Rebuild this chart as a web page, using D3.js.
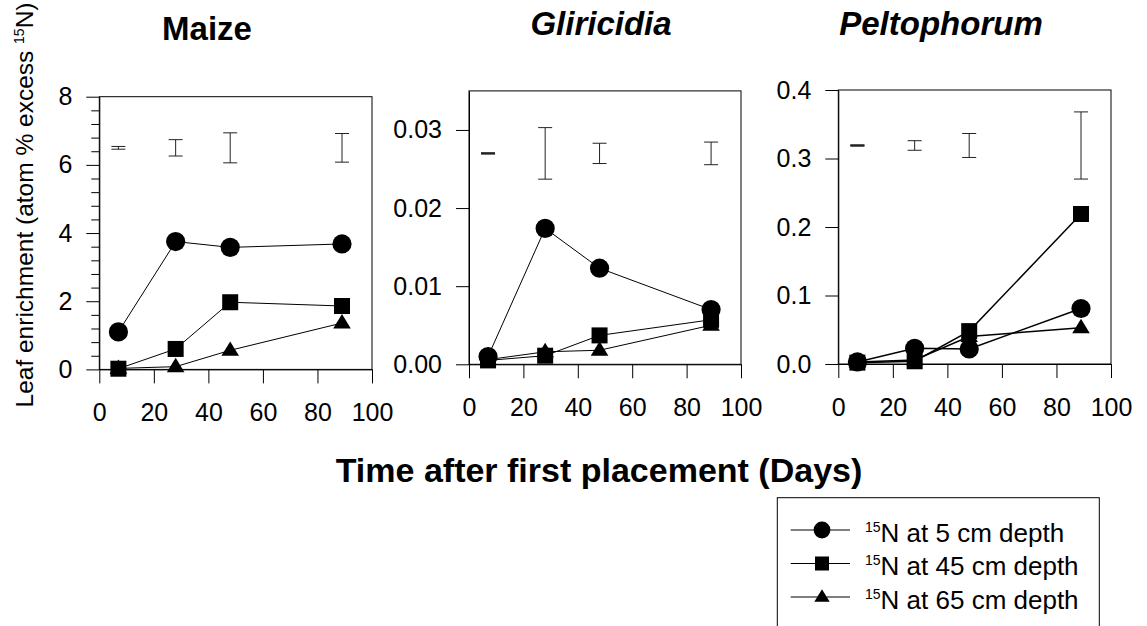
<!DOCTYPE html>
<html>
<head>
    <title>Leaf enrichment</title>
    <script src="https://cdnjs.cloudflare.com/ajax/libs/d3/7.8.5/d3.min.js"></script>
    <style>
    body {
        margin:0;
        background:white;
    }
    svg text {
        font-family:'Liberation Sans', Arial, sans-serif;
        fill:black;
    }
    </style>
</head>
<body>
<div id='chart'></div>
<script>
// days after first placement
var days = [7, 28, 48, 89];

// Maize (atom % excess)
var maize5  = [1.10, 3.75, 3.58, 3.68];
var maize45 = [0.02, 0.60, 1.97, 1.86];
var maize65 = [0.03, 0.08, 0.56, 1.36];
var maizeBarMid = 6.5;
var maizeBarHalf = [0.04, 0.24, 0.44, 0.42];

// Gliricidia
var glir5  = [0.0010, 0.0174, 0.0123, 0.0070];
var glir45 = [0.0005, 0.0011, 0.0037, 0.0057];
var glir65 = [0.0006, 0.0016, 0.0018, 0.0050];
var glirBarMid = 0.027;
var glirBarHalf = [0, 0.0033, 0.0013, 0.00145];

// Peltophorum
var pelt5  = [0.003, 0.023, 0.022, 0.081];
var pelt45 = [0.002, 0.004, 0.048, 0.219];
var pelt65 = [0.003, 0.006, 0.040, 0.053];
var peltBarMid = 0.319;
var peltBarHalf = [0, 0.007, 0.0175, 0.049];

var xTicks = [0, 20, 40, 60, 80, 100];
var maizeTicks = [0, 2, 4, 6, 8];
var glirTicks = [0, 0.01, 0.02, 0.03];
var peltTicks = [0, 0.1, 0.2, 0.3, 0.4];

var legendLabels = ['N at 5 cm depth', 'N at 45 cm depth', 'N at 65 cm depth'];

var svg = d3.select('#chart')
    .append('svg')
    .attr('width', 1147)
    .attr('height', 626);

// marker drawing
function drawMarker(g, shape, cx, cy, s) {
    if (shape == 'circle') {
        g.append('circle').attr('cx', cx).attr('cy', cy).attr('r', s * 0.6).attr('fill', 'black');
    } else if (shape == 'square') {
        g.append('rect').attr('x', cx - s / 2).attr('y', cy - s / 2)
            .attr('width', s).attr('height', s).attr('fill', 'black');
    } else {
        var w = s * 1.1, h = s * 0.9;
        g.append('path')
            .attr('d', 'M' + cx + ',' + (cy - h * 0.62) + 'L' + (cx + w / 2) + ',' + (cy + h * 0.38) +
                'L' + (cx - w / 2) + ',' + (cy + h * 0.38) + 'Z')
            .attr('fill', 'black');
    }
}

function drawPanel(p) {
    var g = svg.append('g').attr('transform', 'translate(' + p.left + ',' + p.top + ')');
    var x = d3.scaleLinear().domain([0, 100]).range([0, p.w]);
    var y = d3.scaleLinear().domain([0, p.ymax]).range([p.h, 0]);

    // frame
    g.append('rect').attr('width', p.w).attr('height', p.h)
        .attr('fill', 'none').attr('stroke', 'black').attr('stroke-width', 1);

    if (p.minor) {
        g.append('g')
            .call(d3.axisLeft(y).tickValues(p.minor).tickSize(8).tickSizeOuter(0).tickFormat(''))
            .call(function(a) { a.select('.domain').remove(); });
    }
    var ya = g.append('g')
        .call(d3.axisLeft(y).tickValues(p.yticks).tickSize(13).tickSizeOuter(0).tickPadding(14).tickFormat(d3.format(p.fmt)));
    ya.selectAll('text').style('font-size', '25px').attr('font-family', null);

    var xa = g.append('g')
        .attr('transform', 'translate(0,' + p.h + ')')
        .call(d3.axisBottom(x).tickValues(xTicks).tickSize(14).tickSizeOuter(0).tickPadding(20));
    xa.selectAll('text').style('font-size', '25px').attr('font-family', null);
    g.selectAll('.domain, .tick line').attr('stroke', 'black');

    // LSD bars
    days.forEach(function(d, i) {
        var x0 = x(d), y1 = y(p.barMid + p.barHalf[i]), y2 = y(p.barMid - p.barHalf[i]);
        var sw = p.barHalf[i] == 0 ? 2 : 1;
        g.append('line').attr('x1', x0).attr('x2', x0).attr('y1', y1).attr('y2', y2)
            .attr('stroke', '#222').attr('stroke-width', 1);
        g.append('line').attr('x1', x0 - 7).attr('x2', x0 + 7).attr('y1', y1).attr('y2', y1)
            .attr('stroke', '#222').attr('stroke-width', sw);
        g.append('line').attr('x1', x0 - 7).attr('x2', x0 + 7).attr('y1', y2).attr('y2', y2)
            .attr('stroke', '#222').attr('stroke-width', sw);
    });

    var line = d3.line().x(function(d, i) { return x(days[i]); }).y(function(d) { return y(d); });
    var series = [[p.s65, 'triangle'], [p.s45, 'square'], [p.s5, 'circle']];
    series.forEach(function(s) {
        g.append('path').datum(s[0]).attr('d', line)
            .attr('fill', 'none').attr('stroke', 'black').attr('stroke-width', p.lw);
    });
    series.forEach(function(s) {
        s[0].forEach(function(v, i) {
            drawMarker(g, s[1], x(days[i]), y(v), 16);
        });
    });

    svg.append('text')
        .attr('x', p.titleX).attr('y', p.titleY)
        .attr('text-anchor', 'middle')
        .style('font-size', '33px').style('font-weight', 'bold')
        .style('font-style', p.italic ? 'italic' : 'normal')
        .text(p.title);
}

drawPanel({left: 99.3, top: 96.7, w: 272.7, h: 272.7, ymax: 8, yticks: maizeTicks, fmt: 'd',
    minor: [0.4, 0.8, 1.2, 1.6, 2.4, 2.8, 3.2, 3.6, 4.4, 4.8, 5.2, 5.6, 6.4, 6.8, 7.2, 7.6],
    s5: maize5, s45: maize45, s65: maize65, barMid: maizeBarMid, barHalf: maizeBarHalf,
    lw: 1, title: 'Maize', italic: false, titleX: 207, titleY: 40});

drawPanel({left: 469, top: 90.9, w: 272, h: 273.4, ymax: 0.035, yticks: glirTicks, fmt: '.2f',
    s5: glir5, s45: glir45, s65: glir65, barMid: glirBarMid, barHalf: glirBarHalf,
    lw: 1, title: 'Gliricidia', italic: true, titleX: 601, titleY: 35});

drawPanel({left: 838.3, top: 90, w: 272.7, h: 274, ymax: 0.4, yticks: peltTicks, fmt: '.1f',
    s5: pelt5, s45: pelt45, s65: pelt65, barMid: peltBarMid, barHalf: peltBarHalf,
    lw: 1.5, title: 'Peltophorum', italic: true, titleX: 941, titleY: 35});

// y axis title
var yt = svg.append('text')
    .attr('transform', 'translate(33,205) rotate(-90)')
    .attr('text-anchor', 'middle')
    .style('font-size', '24.5px');
yt.append('tspan').text('Leaf enrichment (atom % excess ');
yt.append('tspan').attr('dy', -9).style('font-size', '14px').text('15');
yt.append('tspan').attr('dy', 9).text('N)');

// x axis title
svg.append('text')
    .attr('x', 599).attr('y', 482)
    .attr('text-anchor', 'middle')
    .style('font-size', '34px').style('font-weight', 'bold')
    .text('Time after first placement (Days)');

// legend
var lg = svg.append('g');
lg.append('rect').attr('x', 777.3).attr('y', 497.7).attr('width', 322).attr('height', 140)
    .attr('fill', 'white').attr('stroke', 'black').attr('stroke-width', 1);
var shapes = ['circle', 'square', 'triangle'];
legendLabels.forEach(function(lab, i) {
    var cy = 530 + i * 33.5;
    lg.append('line').attr('x1', 790.7).attr('x2', 850).attr('y1', cy).attr('y2', cy)
        .attr('stroke', 'black').attr('stroke-width', 1);
    drawMarker(lg, shapes[i], 822, cy, 14);
    var t = lg.append('text').attr('x', 865).attr('y', cy + 11.5).style('font-size', '26px');
    t.append('tspan').attr('dy', -10).style('font-size', '14px').text('15');
    t.append('tspan').attr('dy', 10).text(lab);
});
</script>
</body>
</html>
